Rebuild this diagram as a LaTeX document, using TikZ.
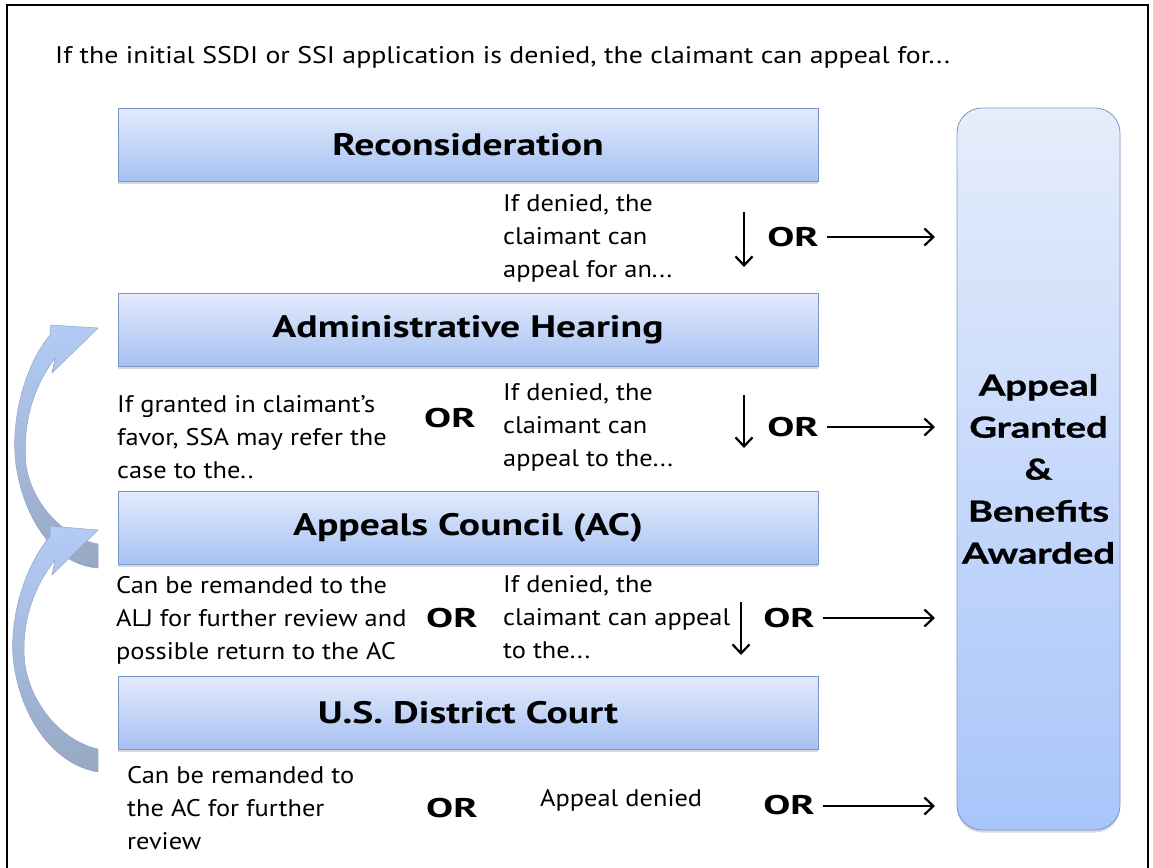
\documentclass[tikz,border=0pt]{standalone}
\usepackage{fontspec}
\setmainfont{PT Sans}[FakeStretch=1.10]
\newfontfamily\titlefont{PT Sans}[FakeStretch=1.16]
\newfontfamily\headfont{PT Sans}[FakeStretch=1.28]
\newfontfamily\orfont{PT Sans}[FakeStretch=1.5]
\newfontfamily\widefont{Lato}[FakeStretch=1.32, BoldFeatures={FakeBold=1}]
\usetikzlibrary{arrows.meta,shadows}
\definecolor{boxtop}{HTML}{E2EAFB}
\definecolor{boxbot}{HTML}{A6C1F3}
\definecolor{boxline}{HTML}{7B96C6}
\definecolor{fintop}{HTML}{E6EDFB}
\definecolor{finbot}{HTML}{A8C5FA}
\definecolor{arrtop}{HTML}{B3CCF6}
\definecolor{arrbot}{HTML}{98A8C2}
\definecolor{arrline}{HTML}{8FA4C8}
\begin{document}
\begin{tikzpicture}[x=1pt,y=-1pt,
  stage/.style={draw=boxline, line width=0.8pt, top color=boxtop, bottom color=boxbot,
    minimum width=700pt, minimum height=73pt, inner sep=0pt,
    font=\headfont\bfseries\fontsize{31}{36}\selectfont,
    drop shadow={opacity=0.3, shadow xshift=0pt, shadow yshift=-2.5pt}},
  final/.style={draw=boxline, line width=0.8pt, top color=fintop, bottom color=finbot,
    rounded corners=25pt, minimum width=163pt, minimum height=722pt, inner sep=0pt,
    align=center, font=\widefont\bfseries\fontsize{29}{42}\selectfont,
    drop shadow={opacity=0.3, shadow xshift=0pt, shadow yshift=-2.5pt}},
  txt/.style={anchor=west, align=left, inner sep=0pt, font=\fontsize{24}{33}\selectfont},
  ortxt/.style={inner sep=0pt, font=\orfont\bfseries\fontsize{27}{32}\selectfont},
  darr/.style={line width=2.2pt, -{Straight Barb[length=9pt,width=17pt,line width=2.2pt]}},
  rarr/.style={line width=2.2pt, -{Straight Barb[length=9pt,width=17pt,line width=2.2pt]}},
  curv/.style={draw=arrline, line width=0.5pt, top color=arrtop, bottom color=arrbot}
]
\useasboundingbox (0,0) rectangle (1153,867);
% frame
\draw[line width=2.5pt] (7,875) -- (7,5) -- (1148,5) -- (1148,875);

\node[anchor=west, inner sep=0pt, font=\titlefont\fontsize{24}{28}\selectfont] (title) at (55,57)
  {If the initial SSDI or SSI application is denied, the claimant can appeal for...};

% curved arrows (drawn first, behind boxes)
\path[curv] (98,328) -- (50,325) -- (50,335)
  .. controls (25,365) and (10,420) .. (16,465)
  .. controls (24,520) and (55,565) .. (98,568)
  -- (98,544)
  .. controls (65,538) and (32,505) .. (26,465)
  .. controls (22,420) and (35,385) .. (55,358)
  -- (52,373) -- cycle;
\path[curv] (98,530) -- (50,526) -- (50,536)
  .. controls (22,570) and (8,625) .. (14,665)
  .. controls (22,720) and (55,765) .. (98,772)
  -- (98,749)
  .. controls (65,742) and (32,708) .. (25,665)
  .. controls (20,622) and (35,585) .. (55,560)
  -- (52,575) -- cycle;

\node[stage] (recon) at (468,144.5) {Reconsideration};
\node[stage] (admin) at (468,330) {Administrative Hearing};
\node[stage] (ac) at (468,528) {Appeals Council (AC)};
\node[stage] (usdc) at (468,712.5) {U.S. District Court};

\node[final] (grant) at (1038.5,469) {Appeal\\Granted\\\&\\Benefits\\Awarded};

% row 1
\node[txt] (r1) at (503,238) {If denied, the\\claimant can\\appeal for an...};
\node[ortxt] (or1) at (793,237) {OR};
% row 2
\node[txt] (l2) at (117,437) {If granted in claimant's\\favor, SSA may refer the\\case to the..};
\node[ortxt] (or2l) at (450,418) {OR};
\node[txt] (r2) at (503,427) {If denied, the\\claimant can\\appeal to the...};
\node[ortxt] (or2) at (793,427) {OR};
% row 3
\node[txt] (l3) at (116,620) {Can be remanded to the\\ALJ for further review and\\possible return to the AC};
\node[ortxt] (or3l) at (452,618) {OR};
\node[txt] (r3) at (503,617) {If denied, the\\claimant can appeal\\to the...};
\node[ortxt] (or3) at (789,618) {OR};
% row 4
\node[txt] (l4) at (127,808) {Can be remanded to\\the AC for further\\review};
\node[ortxt] (or4l) at (452,808) {OR};
\node[txt] (r4) at (540,800) {Appeal denied};
\node[ortxt] (or4) at (789,805) {OR};

% down arrows
\coordinate (d1s) at (744,212); \coordinate (d1e) at (744,267);
\coordinate (d2s) at (744,395); \coordinate (d2e) at (744,448);
\coordinate (d3s) at (741,602); \coordinate (d3e) at (741,655);
\draw[darr] (d1s) -- (d1e);
\draw[darr] (d2s) -- (d2e);
\draw[darr] (d3s) -- (d3e);

% right arrows
\coordinate (e1) at (935,237);
\coordinate (e2) at (935,427);
\coordinate (e3) at (935,618);
\coordinate (e4) at (935,806);
\draw[rarr] ([xshift=8pt]or1.east) -- (e1);
\draw[rarr] ([xshift=8pt]or2.east) -- (e2);
\draw[rarr] ([xshift=8pt]or3.east) -- (e3);
\draw[rarr] ([xshift=8pt]or4.east |- e4) -- (e4);
\end{tikzpicture}
\end{document}
